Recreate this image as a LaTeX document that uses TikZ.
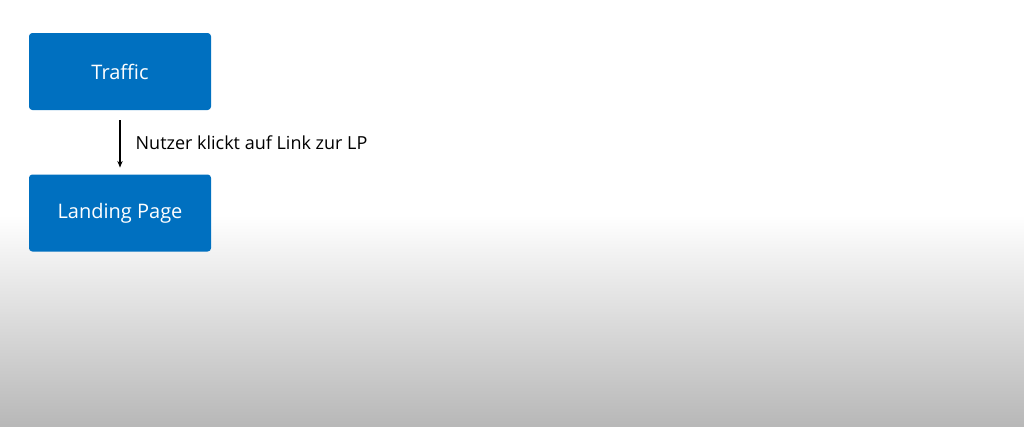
\documentclass[tikz,border=0pt]{standalone}
\usepackage{fontspec}
\setmainfont{Open Sans}
\usetikzlibrary{arrows.meta}
\definecolor{boxblue}{RGB}{0,112,192}
\tikzset{
  stepbox/.style={fill=boxblue, rounded corners=2.5pt, minimum width=136.5pt, minimum height=57.75pt, text=white, font=\fontsize{15}{18}\selectfont},
  flowarrow/.style={-{Stealth[length=5pt,width=4pt]}, line width=0.8pt}
}
\begin{document}
\begin{tikzpicture}[x=0.75pt,y=0.75pt,yscale=-1,xscale=1]
\useasboundingbox (0,0) rectangle (1024,426);

%Background
\fill [white] (0,0) rectangle (1024,426);
\shade [top color=white, bottom color=black!28] (0,215) rectangle (1024,426);

% Box Node
\node [stepbox] (traffic) at (120,71.5) {Traffic};
% Box Node
\node [stepbox] (landing) at (120,213) {Landing Page};

%Straight Lines
\draw [flowarrow, shorten <=7.5pt, shorten >=5pt] (traffic) -- (landing)
  node [midway, right=8pt, font=\fontsize{13.5}{16}\selectfont] {Nutzer klickt auf Link zur LP};
\end{tikzpicture}
\end{document}
